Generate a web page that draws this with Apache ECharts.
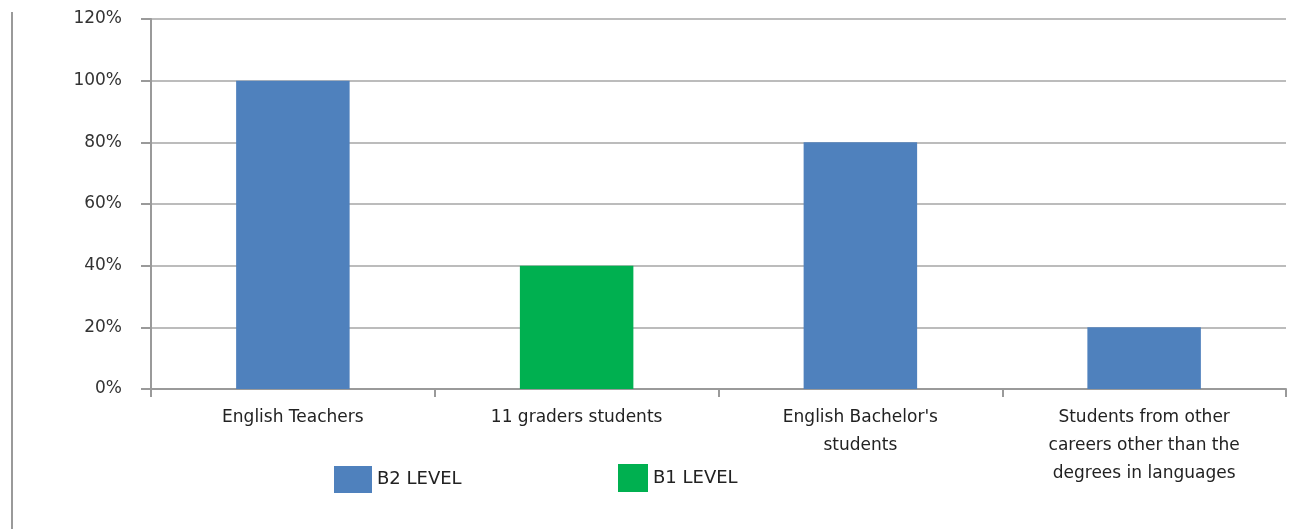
<!DOCTYPE html>
<html>
<head>
<meta charset="utf-8">
<script src="https://cdn.jsdelivr.net/npm/echarts@6/dist/echarts.min.js"></script>
<style>
  html, body { margin: 0; padding: 0; background: #fff; }
  #main { width: 1312px; height: 529px; }
</style>
</head>
<body>
<div id="main"></div>
<script>
// categories on the x axis
const categories = [
  'English Teachers',
  '11 graders students',
  "English Bachelor's\nstudents",
  'Students from other\ncareers other than the\ndegrees in languages'
]
// B2 level groups (blue) and B1 level group (green), in percent
const b2Values = [100, '-', 80, 20]
const b1Values = ['-', 40, '-', '-']

const chart = echarts.init(document.getElementById('main'))

const labelFont = '"DejaVu Sans", Verdana, sans-serif'

const option = {
  animation: false,
  grid: { left: 151, right: 26, top: 19, bottom: 140 },
  graphic: [
    {
      type: 'line',
      shape: { x1: 12, y1: 12, x2: 12, y2: 529 },
      style: { stroke: '#9a9a9a', lineWidth: 2 }
    }
  ],
  legend: [
    {
      data: ['B2 LEVEL'],
      left: 329, top: 461,
      itemWidth: 38, itemHeight: 27, itemGap: 8,
      icon: 'rect',
      textStyle: { fontFamily: labelFont, fontSize: 18, color: '#222' }
    },
    {
      data: ['B1 LEVEL'],
      left: 613, top: 459,
      itemWidth: 30, itemHeight: 28, itemGap: 8,
      icon: 'rect',
      textStyle: { fontFamily: labelFont, fontSize: 18, color: '#222' }
    }
  ],
  xAxis: {
    type: 'category',
    data: categories,
    axisLine: { lineStyle: { color: '#9a9a9a', width: 2 } },
    axisTick: { show: true, length: 8, lineStyle: { color: '#9a9a9a', width: 2 } },
    axisLabel: {
      interval: 0,
      margin: 15,
      fontFamily: labelFont,
      fontSize: 17,
      lineHeight: 28,
      color: '#222',
      align: 'center'
    }
  },
  yAxis: {
    type: 'value',
    min: 0,
    max: 120,
    interval: 20,
    axisLine: { show: true, lineStyle: { color: '#9a9a9a', width: 2 } },
    axisTick: { show: true, length: 10, lineStyle: { color: '#9a9a9a', width: 2 } },
    splitLine: { lineStyle: { color: '#a6a6a6', width: 1.5 } },
    axisLabel: {
      formatter: '{value}%',
      margin: 29,
      fontFamily: labelFont,
      fontSize: 17,
      color: '#333'
    }
  },
  series: [
    {
      name: 'B2 LEVEL',
      type: 'bar',
      stack: 'level',
      barWidth: '40%',
      data: b2Values,
      itemStyle: { color: '#4f81bd' }
    },
    {
      name: 'B1 LEVEL',
      type: 'bar',
      stack: 'level',
      barWidth: '40%',
      data: b1Values,
      itemStyle: { color: '#00b050' }
    }
  ]
}

chart.setOption(option)
</script>
</body>
</html>
